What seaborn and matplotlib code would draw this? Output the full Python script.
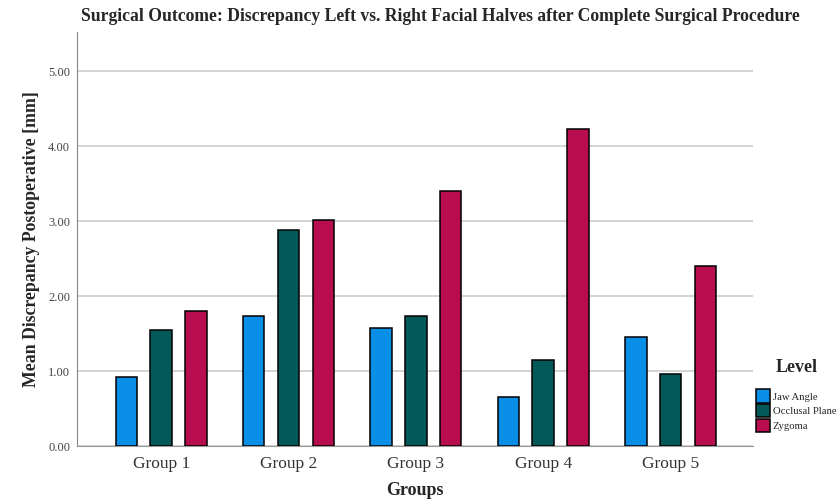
import pandas as pd
import matplotlib.pyplot as plt
import seaborn as sns

groups = ['Group 1', 'Group 2', 'Group 3', 'Group 4', 'Group 5']
levels = ['Jaw Angle', 'Occlusal Plane', 'Zygoma']
jaw_angle = [0.92, 1.73, 1.58, 0.66, 1.46]
occlusal_plane = [1.55, 2.88, 1.74, 1.15, 0.96]
zygoma = [1.80, 3.01, 3.40, 4.23, 2.40]
colors = ['#0a8fe8', '#03595a', '#b80d4e']

df = pd.DataFrame({
    'Groups': groups * 3,
    'Level': [l for l in levels for _ in groups],
    'Mean': jaw_angle + occlusal_plane + zygoma,
})

sns.set_style('white')
plt.rcParams['font.family'] = ['Liberation Serif', 'DejaVu Serif']

fig = plt.figure(figsize=(8.38, 5.03), dpi=100)
ax = fig.add_axes([0.092, 0.113, 0.807, 0.823])

sns.barplot(data=df, x='Groups', y='Mean', hue='Level', palette=colors,
            saturation=1, width=0.82, gap=0.38, edgecolor='black', linewidth=1.1,
            errorbar=None, ax=ax, zorder=3)

ax.set_xlim(-0.66, 4.65)
ax.set_ylim(0, 5.52)
ax.set_yticks([0, 1, 2, 3, 4, 5])
ax.set_yticklabels(['%.2f' % v for v in [0, 1, 2, 3, 4, 5]], fontsize=9, color='#444444')
ax.tick_params(axis='x', labelsize=12.5, colors='#333333', length=0, pad=7)
ax.tick_params(axis='y', length=0, pad=5)
ax.grid(axis='y', color='#c8c8c8', linewidth=1.1, zorder=0)
ax.set_axisbelow(True)
for s in ['top', 'right']:
    ax.spines[s].set_visible(False)
ax.spines['left'].set_color('#888888')
ax.spines['bottom'].set_color('#999999')

ax.set_xlabel('Groups', fontsize=13, fontweight='bold', labelpad=7)
ax.set_ylabel('Mean Discrepancy Postoperative [mm]', fontsize=12.8, fontweight='bold', labelpad=6)
fig.suptitle('Surgical Outcome: Discrepancy Left vs. Right Facial Halves after Complete Surgical Procedure',
             x=0.526, y=0.985, fontsize=12.7, fontweight='bold')

leg = ax.legend(title='Level', loc='upper left', bbox_to_anchor=(0.99, 0.235),
                frameon=False, fontsize=7.7, handlelength=1.3, handleheight=1.55,
                handletextpad=0.25, labelspacing=0.12, alignment='center')
leg.get_title().set_fontsize(13)
leg.get_title().set_fontweight('bold')
leg._legend_box.sep = 10

fig.savefig('out.png', dpi=100)
